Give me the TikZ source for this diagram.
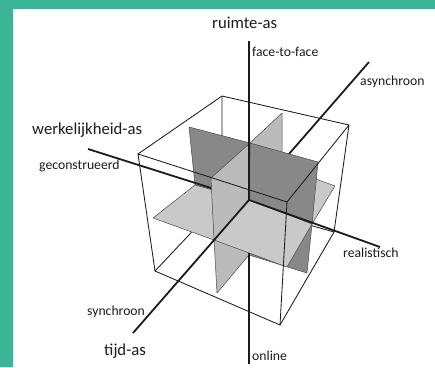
\documentclass[tikz,border=0pt]{standalone}
\usepackage{fontspec}
\setmainfont{Carlito}
\definecolor{kteal}{HTML}{3BB596}
\definecolor{kdark}{HTML}{888888}
\definecolor{klight}{HTML}{BBBBBB}
\definecolor{kflat}{HTML}{C9C9C9}
\definecolor{kink}{HTML}{1C1C1C}
\tikzset{
  asln/.style={line width=1.8pt,draw=kink},
  cubeln/.style={line width=0.85pt,draw=kink},
  vplane/.style={fill=klight,draw=kink!80,line width=0.5pt,line join=round},
  dplane/.style={fill=kdark,draw=kink!80,line width=0.5pt,line join=round},
  hplane/.style={fill=kflat,draw=kink!80,line width=0.5pt,line join=round},
  ttl/.style={font=\fontsize{16.7pt}{18pt}\selectfont,text=kink,inner sep=0pt,anchor=base west},
  lbl/.style={font=\fontsize{13.7pt}{15pt}\selectfont,text=kink,inner sep=0pt,anchor=base west},
}
\begin{document}
\begin{tikzpicture}[x=1pt,y=-1pt]
  \useasboundingbox (0,0) rectangle (435,367);
  \fill[kteal] (0,0) rectangle (435,367);
  \fill[white] (13,9) rectangle (435,367);
  % kubus
  \coordinate (tbk) at (222,96);  \coordinate (trt) at (349,125);
  \coordinate (tfr) at (287,202); \coordinate (tlf) at (138,154);
  \coordinate (bbk) at (222,200); \coordinate (brt) at (334,232);
  \coordinate (bfr) at (280,325); \coordinate (blf) at (155,271);
  % assen
  \coordinate (C) at (249,200);
  \coordinate (rTop) at (249,41); \coordinate (rLow) at (249,253); \coordinate (rBot) at (249,364);
  \coordinate (tSyn) at (133,333); \coordinate (tAsy) at (369,62);
  \coordinate (wGeo) at (88,149); \coordinate (wReal) at (380,247);
  % vlakken
  \coordinate (vtop) at (250,143); \coordinate (vbot) at (249,255);
  \coordinate (lft) at (211,178); \coordinate (lfm) at (214,240); \coordinate (lfb) at (217,293);
  \coordinate (lbt) at (282,113); \coordinate (lbm) at (282,165);
  \coordinate (dlt) at (189,127); \coordinate (dlm) at (195,185);
  \coordinate (drt) at (318,162); \coordinate (drm) at (312,224); \coordinate (drb) at (307,273);
  \coordinate (hl) at (153,218); \coordinate (hf) at (287,267);
  \coordinate (hr) at (335,186); \coordinate (hbm) at (280,166);

  \draw[cubeln] (tbk) -- (bbk) (blf) -- (bbk) -- (brt);
  \filldraw[vplane] (vtop) -- (lbt) -- (lbm) -- (C) -- cycle;
  \filldraw[hplane] (C) -- (drm) -- (hr) -- (hbm) -- cycle;
  \draw[asln] (C) -- (tAsy);
  \filldraw[dplane] (dlt) -- (vtop) -- (C) -- (dlm) -- cycle;
  \filldraw[dplane] (vtop) -- (drt) -- (drm) -- (C) -- cycle;
  \filldraw[dplane] (C) -- (drm) -- (drb) -- (vbot) -- cycle;
  \filldraw[vplane] (C) -- (lfm) -- (lfb) -- (vbot) -- cycle;
  \filldraw[hplane] (C) -- (dlm) -- (hl) -- (lfm) -- cycle;
  \filldraw[hplane] (C) -- (lfm) -- (hf) -- (drm) -- cycle;
  \draw[asln] (wGeo) -- (C);
  \filldraw[vplane] (vtop) -- (lft) -- (lfm) -- (C) -- cycle;

  \draw[cubeln] (tlf) -- (tbk) -- (trt) -- (brt) -- (bfr) -- (blf) -- (tlf) -- (tfr) -- (trt);
  \draw[cubeln] (tfr) -- (bfr);

  \draw[asln] (rTop) -- (C) (rLow) -- (rBot);
  \draw[asln] (tSyn) -- (C) -- (wReal);

  \node[ttl] (ruimte) at (212,28.5) {ruimte-as};
  \node[ttl] (werk) at (32,134) {werkelijkheid-as};
  \node[ttl] (tijd) at (104,355) {tijd-as};
  \foreach \x/\y/\n/\t in {252/56.5/ftf/face-to-face, 360/85.5/asy/asynchroon,
      39/169/geco/geconstrueerd, 343/257.5/real/realistisch,
      87/315/syn/synchroon, 252/360/onl/online}
    \node[lbl] (\n) at (\x,\y) {\t};
\end{tikzpicture}
\end{document}
